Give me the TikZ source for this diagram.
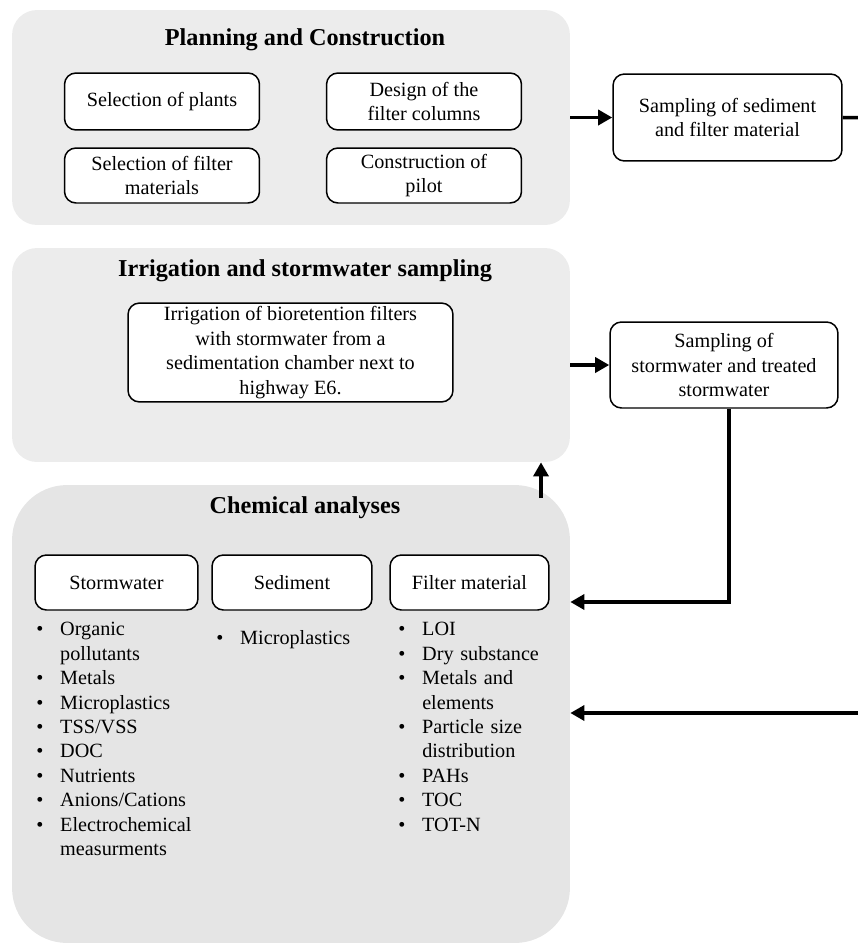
\documentclass[tikz,border=0pt]{standalone}
\usepackage{fontspec}
\setmainfont{Liberation Serif}
\usetikzlibrary{arrows.meta}
\definecolor{panelgray}{RGB}{236,236,236}
\definecolor{panelgrayb}{RGB}{229,229,229}
\newcommand\bitem[1]{\hangindent=13.6pt\hangafter=1\noindent\makebox[13.6pt][l]{\textbullet}#1\par}
\newcommand\nl{\hfil\break}
\begin{document}
\begin{tikzpicture}[x=0.02cm,y=-0.02cm,
  every node/.style={font=\fontsize{11.5}{13.9}\selectfont},
  panel/.style={draw=none,fill=panelgray,rounded corners=25*0.02cm,inner sep=0pt},
  title/.style={font=\fontsize{13.8}{16}\selectfont\bfseries,inner sep=0pt},
  box/.style={draw=black,line width=0.85pt,fill=white,rounded corners=6.5pt,align=center,inner sep=2pt},
  list/.style={inner sep=0pt,anchor=north west,align=left},
  arr/.style={line width=2pt,-{Triangle[length=8pt,width=8.5pt]}},
  con/.style={line width=2pt}]
\useasboundingbox (0,0) rectangle (858,943);
\clip (0,0) rectangle (858,943);
% panels
\node[panel,minimum width=11.16cm,minimum height=4.3cm] (p1) at (291,117.5) {};
\node[panel,minimum width=11.16cm,minimum height=4.28cm] (p2) at (291,355) {};
\node[panel,fill=panelgrayb,rounded corners=55*0.02cm,minimum width=11.16cm,minimum height=9.16cm] (p3) at (291,714) {};
% titles
\node[title] (t1) at (305,40) {Planning and Construction};
\node[title] (t2) at (305,271) {Irrigation and stormwater sampling};
\node[title] (t3) at (305,508) {Chemical analyses};
% panel 1 boxes
\node[box,minimum width=3.9cm,minimum height=1.14cm] (plants) at (162,101.5) {Selection of plants};
\node[box,minimum width=3.9cm,minimum height=1.14cm] (design) at (424,101.5) {Design of the\\filter columns};
\node[box,minimum width=3.9cm,minimum height=1.1cm] (materials) at (162,175.5) {Selection of filter\\materials};
\node[box,minimum width=3.9cm,minimum height=1.1cm] (pilot) at (424,175.5) {Construction of\\pilot};
\node[box,minimum width=4.58cm,minimum height=1.74cm] (sed) at (727.5,117.5) {Sampling of sediment\\and filter material};
% panel 2 boxes
\node[box,minimum width=6.5cm,minimum height=1.7cm] (irr) at (290.5,352.5) {Irrigation of bioretention filters\\with stormwater from a\\sedimentation chamber next to\\highway E6.};
\node[box,minimum width=4.56cm,minimum height=1.72cm] (sw) at (724,365) {Sampling of\\stormwater and treated\\stormwater};
% panel 3 boxes
\node[box,minimum width=3.26cm,minimum height=1.1cm] (storm) at (116.5,582.5) {Stormwater};
\node[box,minimum width=3.2cm,minimum height=1.1cm] (sedim) at (292,582.5) {Sediment};
\node[box,minimum width=3.18cm,minimum height=1.1cm] (filter) at (469.5,582.5) {Filter material};
% lists
\node[list,text width=4cm] (l1) at (36,622) {\raggedright
\bitem{Organic\nl pollutants}
\bitem{Metals}
\bitem{Microplastics}
\bitem{TSS/VSS}
\bitem{DOC}
\bitem{Nutrients}
\bitem{Anions/Cations}
\bitem{Electrochemical\nl measurments}};
\node[list,text width=3.2cm] (l2) at (216,630) {\raggedright
\bitem{Microplastics}};
\node[list,text width=3.2cm] (l3) at (398,622) {\raggedright
\bitem{LOI}
\bitem{Dry substance}
\bitem{Metals and\nl elements}
\bitem{Particle size\nl distribution}
\bitem{PAHs}
\bitem{TOC}
\bitem{TOT-N}};
% connectors
\coordinate (upstart) at (541,498);
\coordinate (rightA) at (880,118);
\coordinate (rightB) at (880,713);
\coordinate (swturn) at (729,602);
\draw[arr] (p1.east |- sed.west) -- (sed.west);
\draw[con] (sed.east) -- (rightA);
\draw[arr] (rightA) -- (rightB) -- (p3.east |- rightB);
\draw[arr] (p2.east |- sw.west) -- (sw.west);
\draw[arr] (sw.south -| swturn) -- (swturn) -- (p3.east |- swturn);
\draw[arr] (upstart) -- (upstart |- p2.south);
\end{tikzpicture}
\end{document}
